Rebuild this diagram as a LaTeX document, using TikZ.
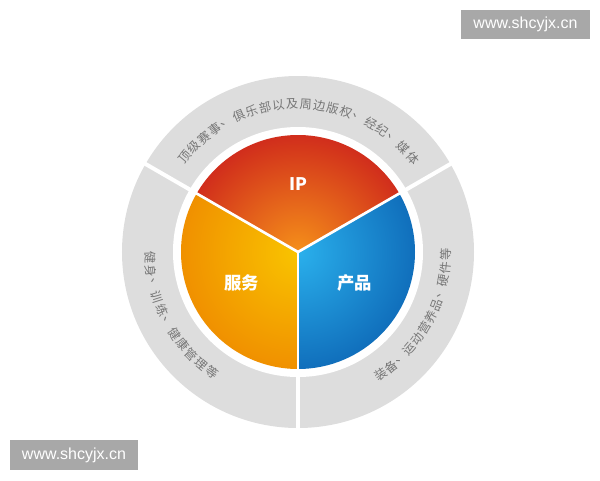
\documentclass[tikz,border=0pt]{standalone}
\usepackage{fontspec}
\setmainfont{Liberation Sans}
\newfontfamily\cjk{Noto Sans CJK SC}
\usepackage{tikz}
\usetikzlibrary{positioning}
\definecolor{ringgray}{HTML}{DDDDDD}
\definecolor{ringtxt}{HTML}{767676}
\definecolor{ipin}{HTML}{F5901A}
\definecolor{ipout}{HTML}{C8161C}
\definecolor{fwin}{HTML}{F9C400}
\definecolor{fwout}{HTML}{EE8400}
\definecolor{cpin}{HTML}{2AB0EC}
\definecolor{cpout}{HTML}{0A5FB0}
\definecolor{wmgray}{HTML}{A8A8A8}
\tikzset{
  ringchar/.style={text=ringtxt, font=\cjk\fontsize{9.2}{10}\selectfont, inner sep=0pt},
  pielabel/.style={text=white, font=\cjk\bfseries\fontsize{13}{14}\selectfont, inner sep=0pt},
  wmark/.style={fill=wmgray, text=white, font=\fontsize{12}{13}\selectfont, inner sep=0pt,
    minimum width=96.5pt, minimum height=22pt},
}

\begin{document}
\begin{tikzpicture}[x=0.75pt, y=0.75pt]

  \newcommand\Ro{176}
  \newcommand\Ri{125}
  \newcommand\Rp{117}
  \newcommand\Rt{148}

  \useasboundingbox (-298,-228) rectangle (302,252);

  %% outer gray ring
  \fill[ringgray] (0,0) circle (\Ro);
  \fill[white] (0,0) circle (\Ri);
  \foreach \a in {30,150,270}
    \draw[white, line width=3pt] (0,0) -- (\a:\Ro+2);

  %% pie sectors
  \foreach \a/\ci/\co in {30/ipin/ipout, 150/fwin/fwout, 270/cpin/cpout} {
    \begin{scope}
      \clip (0,0) -- (\a:\Rp) arc[start angle=\a, delta angle=120, radius=\Rp] -- cycle;
      \shade[inner color=\ci, outer color=\co] (0,0) circle (\Rp+28);
    \end{scope}
  }
  \foreach \a in {30,150,270}
    \draw[white, line width=2pt] (0,0) -- (\a:\Rp+1);

  \node[pielabel] (ip) at (90:68) {IP};
  \node[pielabel] (fw) at (-56,-31) {服务};
  \node[pielabel] (cp) at (57,-31) {产品};

  %% texts on the ring
  \foreach \c [count=\i] in {顶,级,赛,事,、,俱,乐,部,以,及,周,边,版,权,、,经,纪,、,媒,体}
    \node[ringchar, rotate={140-5.3*(\i-1)-90}] (top\i) at ({140-5.3*(\i-1)}:\Rt) {\c};
  \foreach \c [count=\i] in {健,身,、,训,练,、,健,康,管,理,等}
    \node[ringchar, rotate={182+5.25*(\i-1)+90}] (left\i) at ({182+5.25*(\i-1)}:\Rt) {\c};
  \foreach \c [count=\i] in {装,备,、,运,动,营,养,品,、,硬,件,等}
    \node[ringchar, rotate={304+5*(\i-1)+90}] (right\i) at ({304+5*(\i-1)}:\Rt) {\c};

  %% watermarks
  \node[wmark] (wm1) at (227.5,227.5) {www.shcyjx.cn};
  \node[wmark] (wm2) at (-224,-203) {www.shcyjx.cn};

\end{tikzpicture}
\end{document}
